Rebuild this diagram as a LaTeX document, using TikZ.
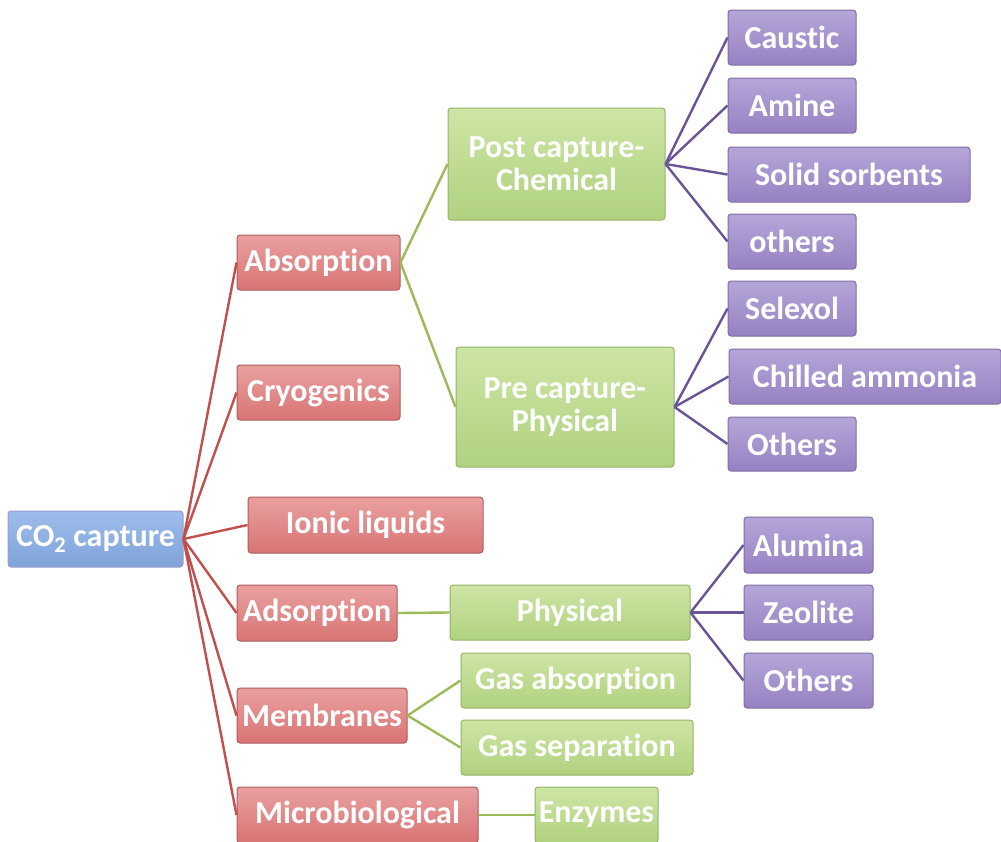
\documentclass[tikz,border=0pt]{standalone}
\usepackage{fontspec}
\setmainfont{Carlito}[Ligatures={NoCommon}]
\begin{document}
\begin{tikzpicture}[x=1pt,y=-1pt,
  base/.style={rectangle, rounded corners=3pt, inner sep=0pt, font=\bfseries\fontsize{32}{33}\selectfont, text=white, align=center, line width=1pt},
  bluebox/.style={base, draw=blue!30!gray!60, top color=bluelight, bottom color=bluedark},
  redbox/.style={base, draw=reddark!80!black, top color=redlight, bottom color=reddark},
  greenbox/.style={base, draw=greendark!85!black, top color=greenlight, bottom color=greendark},
  purplebox/.style={base, draw=purpledark!85!black, top color=purplelight, bottom color=purpledark},
  redline/.style={draw=redln, line width=2.4pt},
  greenline/.style={draw=greenln, line width=2.4pt},
  purpleline/.style={draw=purpleln, line width=2.4pt}]
\definecolor{bluelight}{HTML}{9DBDEB}
\definecolor{bluedark}{HTML}{7FA3DA}
\definecolor{redlight}{HTML}{EAA0A0}
\definecolor{reddark}{HTML}{D87474}
\definecolor{greenlight}{HTML}{CDE5A5}
\definecolor{greendark}{HTML}{B0D27F}
\definecolor{purplelight}{HTML}{B5A6D9}
\definecolor{purpledark}{HTML}{9681C2}
\definecolor{redln}{HTML}{C0504D}
\definecolor{greenln}{HTML}{9BBB59}
\definecolor{purpleln}{HTML}{6A5497}
\useasboundingbox (0,0) rectangle (1001,841);
% root
\node[bluebox, minimum width=175, minimum height=56] (co2) at (95.5,539) {CO\textsubscript{2} capture};
% level 1
\node[redbox, minimum width=163, minimum height=55] (abs) at (318.5,262.5) {Absorption};
\node[redbox, minimum width=163, minimum height=55] (cry) at (318.5,392.5) {Cryogenics};
\node[redbox, minimum width=235, minimum height=56] (ion) at (365.5,525) {Ionic liquids};
\node[redbox, minimum width=160, minimum height=56] (ads) at (317,613) {Adsorption};
\node[redbox, minimum width=170, minimum height=55] (mem) at (322,715.5) {Membranes};
\node[redbox, minimum width=241, minimum height=56] (mic) at (357.5,815) {Microbiological};
% level 2
\node[greenbox, minimum width=217, minimum height=112] (post) at (556.5,164) {Post capture-\\Chemical};
\node[greenbox, minimum width=218, minimum height=120] (pre) at (565,407) {Pre capture-\\Physical};
\node[greenbox, minimum width=240, minimum height=55] (phy) at (570,612.5) {Physical};
\node[greenbox, minimum width=229, minimum height=55] (gabs) at (575.5,680.5) {Gas absorption};
\node[greenbox, minimum width=232, minimum height=55] (gsep) at (577,747.5) {Gas separation};
\node[greenbox, minimum width=123, minimum height=56] (enz) at (596.5,815) {Enzymes};
% level 3
\node[purplebox, minimum width=128, minimum height=55] (cau) at (792,37.5) {Caustic};
\node[purplebox, minimum width=128, minimum height=55] (ami) at (792,105.5) {Amine};
\node[purplebox, minimum width=242, minimum height=55] (sol) at (849,174.5) {Solid sorbents};
\node[purplebox, minimum width=128, minimum height=55] (oth1) at (792,241.5) {others};
\node[purplebox, minimum width=128, minimum height=55] (sel) at (792,308.5) {Selexol};
\node[purplebox, minimum width=272, minimum height=55] (chi) at (865,376.5) {Chilled ammonia};
\node[purplebox, minimum width=128, minimum height=54] (oth2) at (792,444) {Others};
\node[purplebox, minimum width=129, minimum height=56] (alu) at (808.5,545) {Alumina};
\node[purplebox, minimum width=129, minimum height=55] (zeo) at (808.5,612.5) {Zeolite};
\node[purplebox, minimum width=129, minimum height=55] (oth3) at (808.5,680.5) {Others};
% connectors
\foreach \t in {abs,cry,ion,ads,mem,mic}
  \draw[redline] (co2.east) -- (\t.west);
\draw[greenline] (abs.east) -- (post.west);
\draw[greenline] (abs.east) -- (pre.west);
\draw[greenline] (ads.east) -- (phy.west);
\draw[greenline] (mem.east) -- (gabs.west);
\draw[greenline] (mem.east) -- (gsep.west);
\draw[greenline] (mic.east) -- (enz.west);
\foreach \t in {cau,ami,sol,oth1}
  \draw[purpleline] (post.east) -- (\t.west);
\foreach \t in {sel,chi,oth2}
  \draw[purpleline] (pre.east) -- (\t.west);
\foreach \t in {alu,zeo,oth3}
  \draw[purpleline] (phy.east) -- (\t.west);
\end{tikzpicture}
\end{document}
